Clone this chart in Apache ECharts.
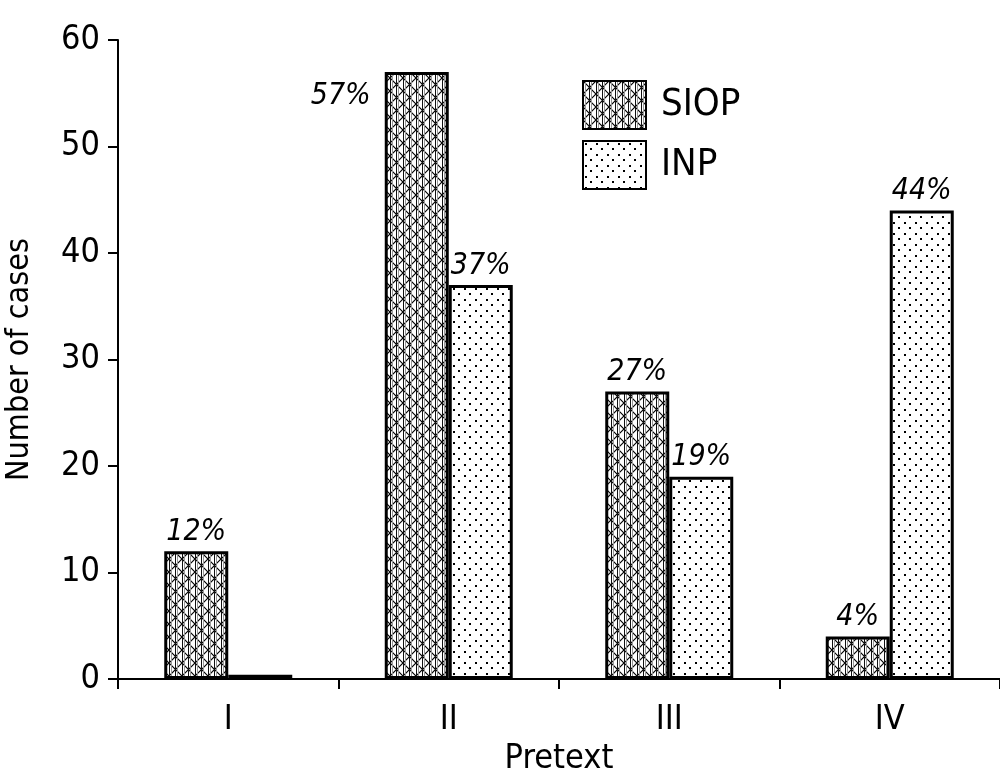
<!DOCTYPE html>
<html><head><meta charset="utf-8">
<script src="https://cdn.jsdelivr.net/npm/echarts@6/dist/echarts.min.js"></script>
<style>html,body{margin:0;padding:0;background:#fff}#c{width:1000px;height:780px}</style>
</head><body><div id="c"></div>
<script>
const categories = ['I', 'II', 'III', 'IV'];
const siopValues = [12, 57, 27, 4];
const inpValues = [0.4, 37, 19, 44];
const siopLabels = ['12%', '57%', '27%', '4%'];
const inpLabels = ['', '37%', '19%', '44%'];
const seriesNames = ['SIOP', 'INP'];
const yMin = 0, yMax = 60, yStep = 10;

const FONT = '"DejaVu Sans Condensed", "Liberation Sans Narrow", sans-serif';

function siopPattern() {
  const w = 13, h = 13;
  const c = document.createElement('canvas');
  c.width = w; c.height = h;
  const g = c.getContext('2d');
  g.fillStyle = '#fff'; g.fillRect(0, 0, w, h);
  g.strokeStyle = '#000'; g.lineWidth = 1.2;
  g.beginPath();
  g.moveTo(0, 0); g.lineTo(w, h);
  g.moveTo(w, 0); g.lineTo(0, h);
  g.stroke();
  g.lineWidth = 1;
  g.strokeStyle = '#111';
  g.beginPath();
  g.moveTo(0.5, 0); g.lineTo(0.5, h);
  g.moveTo(6.5, 0); g.lineTo(6.5, h);
  g.stroke();
  g.strokeStyle = '#999';
  g.beginPath();
  g.moveTo(2.5, 0); g.lineTo(2.5, h);
  g.moveTo(8.5, 0); g.lineTo(8.5, h);
  g.stroke();
  return c;
}
function inpPattern() {
  const w = 11, h = 11;
  const c = document.createElement('canvas');
  c.width = w; c.height = h;
  const g = c.getContext('2d');
  g.fillStyle = '#fff'; g.fillRect(0, 0, w, h);
  g.fillStyle = '#000';
  g.fillRect(2, 2, 2, 2);
  g.fillRect(7, 7, 2, 2);
  return c;
}

const chart = echarts.init(document.getElementById('c'), null, {renderer: 'canvas'});
const labelBase = {
  show: true, position: 'top', distance: 4, color: '#000',
  fontSize: 30, fontStyle: 'italic', fontFamily: FONT
};
chart.setOption({
  animation: false,
  backgroundColor: '#fff',
  grid: {left: 118, right: 0, top: 40, bottom: 101, containLabel: false, outerBoundsMode: 'none'},
  legend: {
    orient: 'vertical', left: 582, top: 80, padding: 0,
    itemWidth: 63, itemHeight: 48, itemGap: 10,
    icon: 'rect',
    data: seriesNames,
    textStyle: {fontSize: 38, color: '#000', fontFamily: FONT, padding: [0, 0, 0, 10]}
  },
  xAxis: {
    type: 'category', data: categories,
    axisLine: {lineStyle: {color: '#000', width: 2}},
    axisTick: {show: true, alignWithLabel: false, length: 10, lineStyle: {color: '#000', width: 2}},
    axisLabel: {fontSize: 34, color: '#000', margin: 24, fontFamily: FONT},
    name: 'Pretext', nameLocation: 'middle', nameGap: 63,
    nameTextStyle: {fontSize: 34, color: '#000', fontFamily: FONT}
  },
  yAxis: {
    type: 'value', min: yMin, max: yMax, interval: yStep,
    axisLine: {show: true, lineStyle: {color: '#000', width: 2}},
    axisTick: {show: true, length: 10, lineStyle: {color: '#000', width: 2}},
    splitLine: {show: false},
    axisLabel: {fontSize: 34, color: '#000', margin: 18, fontFamily: FONT},
    name: 'Number of cases', nameLocation: 'middle', nameGap: 82,
    nameTextStyle: {fontSize: 32, color: '#000', fontFamily: FONT}
  },
  series: [
    {
      name: seriesNames[0], type: 'bar', barWidth: 64, barGap: '0%',
      itemStyle: {color: {image: siopPattern(), repeat: 'repeat'}, borderColor: '#000', borderWidth: 3},
      label: Object.assign({}, labelBase, {formatter: p => siopLabels[p.dataIndex]}),
      data: siopValues.map((v, i) => i === 1
        ? {value: v, label: {position: [-14, 9], align: 'right', verticalAlign: 'top'}}
        : v)
    },
    {
      name: seriesNames[1], type: 'bar', barWidth: 64, barGap: '0%',
      itemStyle: {color: {image: inpPattern(), repeat: 'repeat'}, borderColor: '#000', borderWidth: 3},
      label: Object.assign({}, labelBase, {formatter: p => inpLabels[p.dataIndex]}),
      data: inpValues
    }
  ]
});
</script></body></html>
